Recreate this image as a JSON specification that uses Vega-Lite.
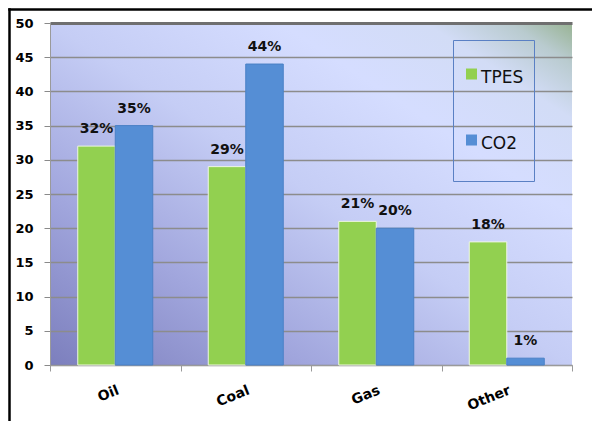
{
  "$schema": "https://vega.github.io/schema/vega-lite/v6.json",
  "width": 522,
  "height": 342,
  "autosize": {"type": "none"},
  "padding": {"left": 50, "top": 23, "right": 20, "bottom": 56},
  "background": "#ffffff",
  "config": {"font": "DejaVu Sans"},
  "view": {
    "stroke": null,
    "fill": {"expr": "{gradient: 'linear', x1: 0, y1: 1, x2: 1, y2: 0, stops: [{offset: 0, color: '#7c7fbd'}, {offset: 0.25, color: '#a1a6dd'}, {offset: 0.5, color: '#c5cdf5'}, {offset: 0.72, color: '#d5ddff'}, {offset: 0.86, color: '#d2dcf6'}, {offset: 0.94, color: '#b9cbcf'}, {offset: 1, color: '#98b393'}]}"}
  },
  "resolve": {"scale": {"x": "independent", "y": "independent"}, "axis": {"x": "independent", "y": "independent"}},
  "layer": [
    {
      "mark": {"type": "rule", "opacity": 0},
      "encoding": {
        "x": {
          "datum": 0, "type": "quantitative",
          "scale": {"domain": [0, 1], "range": [-41, 542], "nice": false, "zero": false},
          "axis": {"orient": "top", "offset": 14, "domainColor": "#000000", "domainWidth": 2.5, "domainCap": "square", "ticks": false, "labels": false, "grid": false, "title": null}
        },
        "y": {
          "datum": 0, "type": "quantitative",
          "scale": {"domain": [0, 1], "range": [398, -14], "nice": false, "zero": false},
          "axis": {"orient": "left", "offset": 41, "domainColor": "#000000", "domainWidth": 2.5, "domainCap": "square", "ticks": false, "labels": false, "grid": false, "title": null}
        }
      }
    },
    {
      "data": {
        "values": [
          {"source": "Oil", "series": "TPES", "value": 32},
          {"source": "Oil", "series": "CO2", "value": 35},
          {"source": "Coal", "series": "TPES", "value": 29},
          {"source": "Coal", "series": "CO2", "value": 44},
          {"source": "Gas", "series": "TPES", "value": 21},
          {"source": "Gas", "series": "CO2", "value": 20},
          {"source": "Other", "series": "TPES", "value": 18},
          {"source": "Other", "series": "CO2", "value": 1}
        ]
      },
      "transform": [{"calculate": "datum.value + '%'", "as": "pct"}],
      "encoding": {
        "x": {
          "field": "source", "type": "nominal",
          "sort": ["Oil", "Coal", "Gas", "Other"],
          "scale": {"paddingInner": 0, "paddingOuter": 0},
          "axis": {
            "orient": "bottom", "title": null,
            "domainColor": "#9a9a9a", "domainWidth": 1,
            "tickBand": "extent", "tickColor": "#9a9a9a", "tickSize": 6,
            "labelAngle": -22, "labelAlign": "right", "labelBaseline": "top",
            "labelPadding": 12, "labelFontSize": 14, "labelFontWeight": "bold",
            "labelColor": "#000000", "labelFont": "DejaVu Sans"
          }
        },
        "xOffset": {
          "field": "series", "type": "nominal",
          "sort": ["TPES", "CO2"],
          "scale": {"paddingInner": 0, "paddingOuter": 0.74}
        },
        "y": {
          "field": "value", "type": "quantitative",
          "scale": {"domain": [0, 50], "nice": false},
          "axis": {
            "orient": "left",
            "title": null,
            "values": [0, 5, 10, 15, 20, 25, 30, 35, 40, 45, 50],
            "domainColor": "#9a9a9a", "domainWidth": 1,
            "tickColor": "#8a8a8a", "tickSize": 6,
            "labelPadding": 11, "labelFontSize": 13, "labelFontWeight": "bold",
            "labelColor": "#000000", "labelFont": "DejaVu Sans",
            "grid": true,
            "gridColor": {"condition": {"test": "datum.value === 50", "value": "#6f6f6f"}, "value": "#8c8c8c"},
            "gridWidth": {"condition": {"test": "datum.value === 50", "value": 3}, "value": 1.3}
          }
        }
      },
      "layer": [
        {
          "mark": {"type": "bar", "strokeWidth": 1},
          "encoding": {
            "color": {
              "field": "series", "type": "nominal",
              "scale": {"domain": ["TPES", "CO2"], "range": ["#92d050", "#558ed5"]},
              "legend": {
                "title": null,
                "orient": "none",
                "legendX": 403,
                "legendY": 17,
                "direction": "vertical",
                "padding": 10,
                "strokeColor": "#5a80c4",
                "symbolType": "M-1,1.82H1V3.82H-1Z",
                "symbolSize": 121,
                "symbolStrokeWidth": 0,
                "labelFont": "DejaVu Sans",
                "labelFontSize": 17,
                "labelColor": "#111111",
                "labelOffset": 1,
                "labelExpr": "['', datum.label, '']",
                "labelBaseline": "middle",
                "rowPadding": 10
              }
            },
            "stroke": {
              "condition": {"test": "datum.series === 'TPES'", "value": "#eef6e2"},
              "value": "#4a80c6"
            }
          }
        },
        {
          "mark": {"type": "text", "baseline": "alphabetic", "dy": -13, "fontSize": 14, "fontWeight": "bold", "font": "DejaVu Sans", "color": "#111111"},
          "encoding": {
            "text": {"field": "pct", "type": "nominal"}
          }
        }
      ]
    }
  ]
}
